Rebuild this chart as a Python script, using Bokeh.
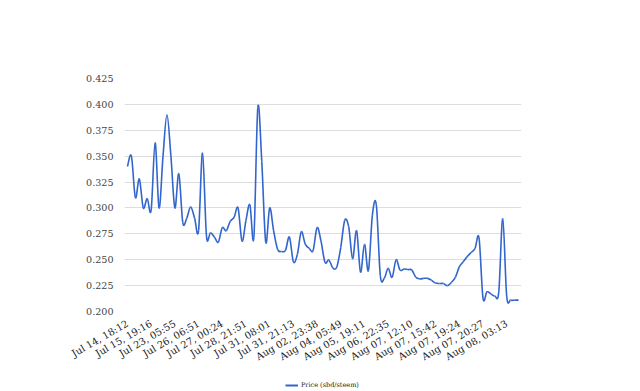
import math
from bokeh.plotting import figure
from bokeh.layouts import column
from bokeh.models import (Range1d, FixedTicker, NumeralTickFormatter, Legend,
                          LegendItem, ColumnDataSource)
from bokeh.embed import file_html
from bokeh.resources import INLINE

# ---- data ----
tick_labels = ["Jul 14, 18:12", "Jul 15, 19:16", "Jul 23, 05:55", "Jul 26, 06:51",
               "Jul 27, 00:24", "Jul 28, 21:51", "Jul 31, 08:01", "Jul 31, 21:13",
               "Aug 02, 23:38", "Aug 04, 05:49", "Aug 05, 19:11", "Aug 06, 22:35",
               "Aug 07, 12:10", "Aug 07, 15:42", "Aug 07, 19:24", "Aug 07, 20:27",
               "Aug 08, 03:13"]
label_every = 6

price = [
    0.340, 0.350, 0.310, 0.328, 0.300, 0.309, 0.298, 0.363, 0.300, 0.350,
    0.390, 0.350, 0.300, 0.333, 0.286, 0.290, 0.301, 0.290, 0.278, 0.353,
    0.273, 0.276, 0.272, 0.267, 0.281, 0.278, 0.287, 0.291, 0.300, 0.268,
    0.288, 0.303, 0.2715, 0.397, 0.345, 0.267, 0.300, 0.278, 0.260, 0.258,
    0.259, 0.272, 0.248, 0.255, 0.277, 0.265, 0.261, 0.259, 0.281, 0.268,
    0.2475, 0.2497, 0.242, 0.243, 0.262, 0.288, 0.282, 0.251, 0.278, 0.238,
    0.265, 0.2395, 0.293, 0.303, 0.235, 0.232, 0.2417, 0.233, 0.250, 0.240,
    0.241, 0.2405, 0.240, 0.233, 0.2315, 0.232, 0.232, 0.230, 0.2275, 0.227,
    0.227, 0.225, 0.228, 0.233, 0.243, 0.248, 0.253, 0.257, 0.261, 0.271,
    0.213, 0.219, 0.217, 0.215, 0.219, 0.2895, 0.215, 0.211, 0.211, 0.211,
]
series_name = "Price (sbd/steem)"
y_ticks = [0.200, 0.225, 0.250, 0.275, 0.300, 0.325, 0.350, 0.375, 0.400, 0.425]

# ---- smooth curve (Catmull-Rom -> cubic bezier segments) ----
n = len(price)
xs = list(range(n))
k = 1.0 / 6.0
seg = dict(x0=[], y0=[], x1=[], y1=[], cx0=[], cy0=[], cx1=[], cy1=[])
for i in range(n - 1):
    p0 = max(i - 1, 0)
    p3 = min(i + 2, n - 1)
    seg["x0"].append(xs[i]); seg["y0"].append(price[i])
    seg["x1"].append(xs[i + 1]); seg["y1"].append(price[i + 1])
    seg["cx0"].append(xs[i] + (xs[i + 1] - xs[p0]) * k)
    seg["cy0"].append(price[i] + (price[i + 1] - price[p0]) * k)
    seg["cx1"].append(xs[i + 1] - (xs[p3] - xs[i]) * k)
    seg["cy1"].append(price[i + 1] - (price[p3] - price[i]) * k)
src = ColumnDataSource(seg)

blue = "#3366cc"

p = figure(width=640, height=369, output_backend="svg", toolbar_location=None,
           x_range=Range1d(-0.75, n - 1 + 0.75), y_range=Range1d(0.2, 0.425),
           min_border_left=124, min_border_right=119, min_border_top=78,
           min_border_bottom=56)
p.outline_line_color = None
p.background_fill_color = "white"
p.border_fill_color = "white"

p.bezier(x0="x0", y0="y0", x1="x1", y1="y1", cx0="cx0", cy0="cy0",
         cx1="cx1", cy1="cy1", source=src, line_color=blue, line_width=1.6)

# axes
p.xgrid.visible = False
p.ygrid.grid_line_color = "#dddddd"
p.ygrid.grid_line_width = 1
p.yaxis.ticker = FixedTicker(ticks=y_ticks)
p.yaxis.formatter = NumeralTickFormatter(format="0.000")
p.yaxis.axis_line_color = None
p.yaxis.major_tick_line_color = None
p.yaxis.minor_tick_line_color = None
p.yaxis.major_label_standoff = 5
p.yaxis.major_label_text_font = "DejaVu Serif"
p.yaxis.major_label_text_font_size = "9.6px"
p.yaxis.major_label_text_color = "#444444"

tick_pos = [i * label_every for i in range(len(tick_labels))]
p.xaxis.ticker = FixedTicker(ticks=tick_pos)
p.xaxis.major_label_overrides = {t: lab for t, lab in zip(tick_pos, tick_labels)}
p.xaxis.axis_line_color = None
p.xaxis.major_tick_line_color = None
p.xaxis.minor_tick_line_color = None
p.xaxis.major_label_orientation = math.pi / 6
p.xaxis.major_label_standoff = 5
p.xaxis.major_label_text_font = "DejaVu Serif"
p.xaxis.major_label_text_font_size = "9.8px"
p.xaxis.major_label_text_color = "#222222"

# ---- legend strip ----
lg = figure(width=640, height=22, output_backend="svg", toolbar_location=None,
            x_range=Range1d(0, 1), y_range=Range1d(0, 1),
            min_border=0, min_border_left=0, min_border_right=0,
            min_border_top=0, min_border_bottom=0)
lg.axis.visible = False
lg.grid.visible = False
lg.outline_line_color = None
lg.border_fill_color = "white"
legend_r = lg.line(x=[-2, -1], y=[0.5, 0.5], line_color=blue, line_width=2)
legend = Legend(items=[LegendItem(label=series_name, renderers=[legend_r])],
                location=(161, 1), orientation="horizontal",
                label_text_font="DejaVu Serif", label_text_font_size="6.5px",
                label_text_color="#222222", glyph_width=13, glyph_height=8,
                label_height=10, label_width=10,
                label_standoff=3, border_line_color=None,
                background_fill_alpha=0, padding=2, margin=0, spacing=0)
lg.add_layout(legend, "center")

page = column(p, lg, spacing=0)
open("out.html", "w").write(file_html(page, INLINE))
